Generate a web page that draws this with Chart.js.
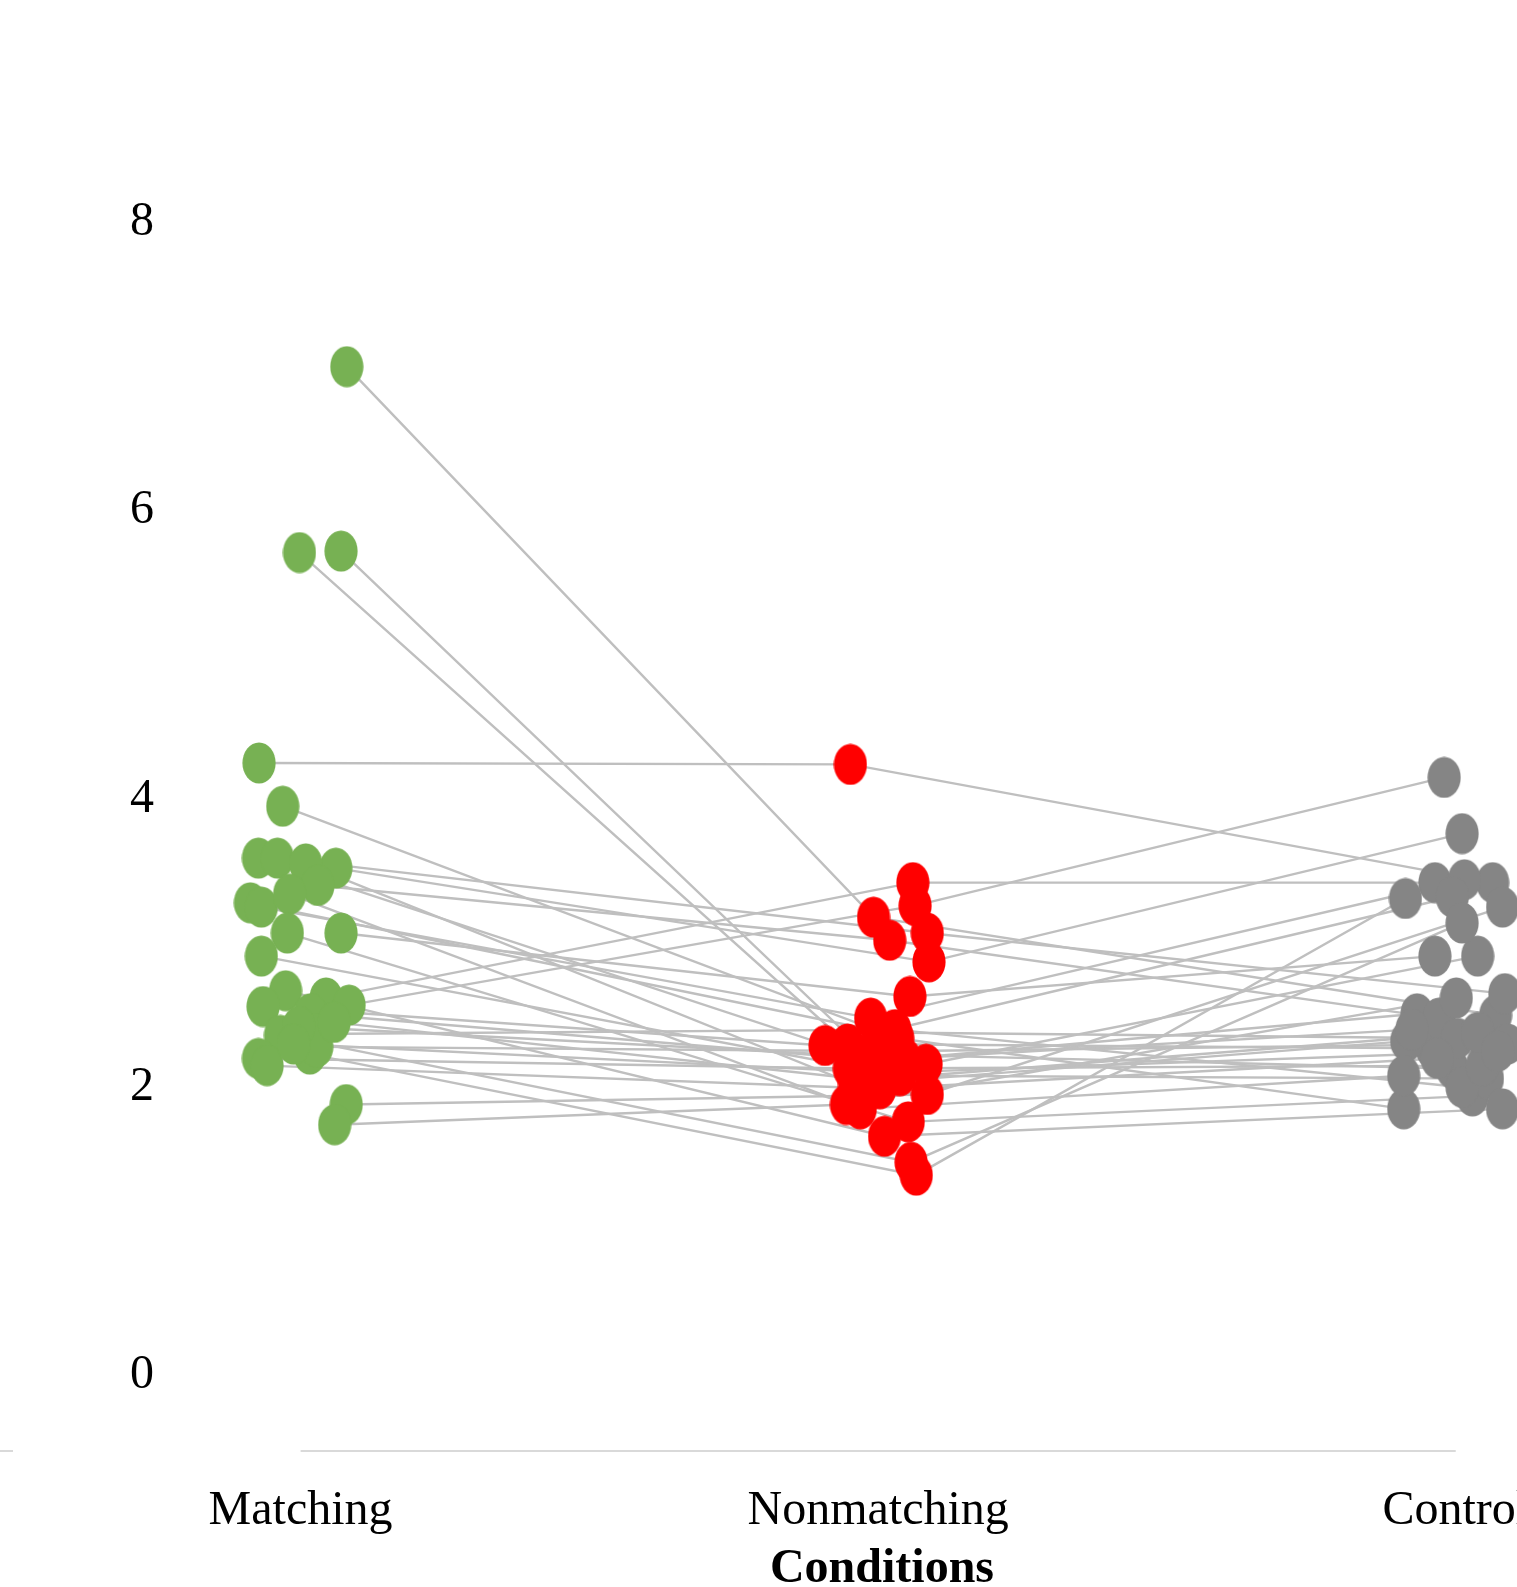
<!DOCTYPE html>
<html>
<head>
<meta charset="utf-8">
<title>Conditions</title>
<script src="https://cdn.jsdelivr.net/npm/chart.js@4.4.1/dist/chart.umd.min.js"></script>
<style>
  html, body { margin: 0; padding: 0; background: #ffffff; overflow: hidden; }
  #wrap { width: 1517px; height: 1587px; position: relative; }
</style>
</head>
<body>
<div id="wrap"><canvas id="chart"></canvas></div>
<script>
// Conditions on the x axis, y tick values
const categories = ['Matching', 'Nonmatching', 'Control'];
const yTicks = [0, 2, 4, 6, 8];

// One entry per participant, same order in every array
const matching    = [7.00, 5.71, 5.72, 4.25, 3.95, 2.62, 2.57, 3.52, 2.23, 3.59, 3.59, 3.55, 3.40, 3.28, 3.25, 3.34,
                     3.07, 3.07, 2.91, 2.67, 2.56, 2.51, 2.36, 2.37, 2.20, 2.15, 1.88, 2.28, 1.74, 2.45, 2.42, 2.30];
const nonmatching = [3.18, 2.30, 2.23, 4.24, 2.34, 3.42, 3.26, 2.87, 1.39, 2.18, 3.07, 2.02, 3.02, 2.38, 2.48, 1.85,
                     1.76, 2.63, 2.08, 1.66, 2.29, 2.16, 1.48, 2.40, 2.13, 1.99, 1.95, 2.25, 1.88, 2.05, 2.20, 2.10];
const control     = [2.50, 2.27, 2.13, 3.42, 1.85, 3.42, 4.15, 3.76, 3.31, 2.51, 2.65, 2.32, 2.48, 2.34, 3.44, 2.08,
                     1.94, 2.91, 2.06, 1.85, 3.32, 2.91, 3.14, 2.00, 2.15, 2.20, 3.25, 2.30, 2.62, 2.38, 2.40, 2.25];

// Horizontal jitter of each dot around its condition (in category units)
const matchingJitter    = [0.080, -0.002, 0.070, -0.072, -0.031, 0.044, 0.084, 0.061, 0.016, -0.073, -0.040, 0.009, 0.030, -0.087, -0.068, -0.019,
                           -0.023, 0.070, -0.068, -0.026, -0.065, 0.017, -0.035, 0.023, -0.073, -0.058, 0.079, 0.028, 0.059, 0.058, -0.003, -0.012];
const nonmatchingJitter = [-0.008, -0.053, -0.018, -0.048, 0.034, 0.060, 0.064, 0.088, 0.066, -0.004, 0.085, -0.041, 0.020, 0.011, -0.013, -0.031,
                           0.052, 0.055, 0.038, 0.011, -0.092, 0.083, 0.057, 0.029, -0.050, 0.003, 0.085, 0.020, -0.055, -0.018, 0.046, 0.011];
const controlJitter     = [0.069, -0.041, -0.006, 0.064, -0.090, -0.036, -0.020, 0.011, -0.087, -0.067, 0.085, -0.085, -0.029, 0.003, 0.015, -0.090,
                           0.029, -0.036, 0.055, 0.081, -0.006, 0.038, 0.011, 0.011, 0.046, -0.032, 0.081, 0.090, 0.001, 0.038, -0.076, 0.073];

const groups = [
  { values: matching,    jitter: matchingJitter,    color: '#77b153' },
  { values: nonmatching, jitter: nonmatchingJitter, color: '#ff0000' },
  { values: control,     jitter: controlJitter,     color: '#858585' }
];

// Slightly tall ellipse used as the marker shape
function ellipseMarker(color) {
  const w = 34, h = 42;
  const c = document.createElement('canvas');
  c.width = w; c.height = h;
  const g = c.getContext('2d');
  g.fillStyle = color;
  g.beginPath();
  g.ellipse(w / 2, h / 2, 16.6, 20.5, 0, 0, Math.PI * 2);
  g.fill();
  return c;
}

const pointSets = groups.map((grp, gi) => ({
  type: 'scatter',
  data: grp.values.map((v, i) => ({ x: gi + grp.jitter[i], y: v })),
  pointStyle: ellipseMarker(grp.color),
  pointRadius: 17,
  borderWidth: 0,
  backgroundColor: grp.color,
  clip: false,
  order: 0
}));

const lineSets = matching.map((_, i) => ({
  type: 'scatter',
  showLine: true,
  data: groups.map((grp, gi) => ({ x: gi + grp.jitter[i], y: grp.values[i] })),
  borderColor: '#bfbfbf',
  borderWidth: 2.4,
  pointRadius: 0,
  clip: false,
  order: 1
}));

// Light baseline under the conditions
const axisLine = {
  id: 'axisLine',
  beforeDatasetsDraw(chart) {
    const { ctx, chartArea, scales: { x } } = chart;
    const y = chartArea.bottom;
    ctx.save();
    ctx.strokeStyle = '#d9d9d9';
    ctx.lineWidth = 2;
    ctx.beginPath();
    ctx.moveTo(0, y); ctx.lineTo(13, y);
    ctx.moveTo(x.getPixelForValue(0), y);
    ctx.lineTo(x.getPixelForValue(categories.length - 1), y);
    ctx.stroke();
    ctx.restore();
  }
};

Chart.defaults.font.family = '"Times New Roman", "Liberation Serif", serif';
Chart.defaults.color = '#000000';

new Chart(document.getElementById('chart'), {
  type: 'scatter',
  data: { datasets: [...pointSets, ...lineSets] },
  plugins: [axisLine],
  options: {
    responsive: true,
    maintainAspectRatio: false,
    animation: false,
    events: [],
    layout: { autoPadding: false, padding: { top: 78.4, left: 0, right: 0, bottom: 0 } },
    plugins: { legend: { display: false }, tooltip: { enabled: false } },
    scales: {
      x: {
        type: 'linear',
        min: -0.0928,
        max: 2.1061,
        grid: { display: false, drawTicks: false },
        border: { display: false },
        afterBuildTicks: s => { s.ticks = categories.map((_, i) => ({ value: i })); },
        afterFit: s => { s.height = 136; s.paddingLeft = 0; s.paddingRight = 0; },
        ticks: {
          autoSkip: false,
          maxRotation: 0,
          minRotation: 0,
          padding: 32,
          color: '#000000',
          font: { size: 48 },
          callback: v => categories[v]
        },
        title: {
          display: true,
          text: 'Conditions',
          color: '#000000',
          font: { size: 48, weight: 'bold' },
          padding: { top: 0, bottom: -11 }
        }
      },
      y: {
        type: 'linear',
        min: -0.5239,
        max: 9,
        grid: { display: false, drawTicks: false },
        border: { display: false },
        afterBuildTicks: s => { s.ticks = yTicks.map(v => ({ value: v })); },
        afterFit: s => { s.width = 247; s.paddingTop = 0; s.paddingBottom = 0; },
        ticks: { padding: 93, color: '#000000', font: { size: 48 } }
      }
    }
  }
});
</script>
</body>
</html>
